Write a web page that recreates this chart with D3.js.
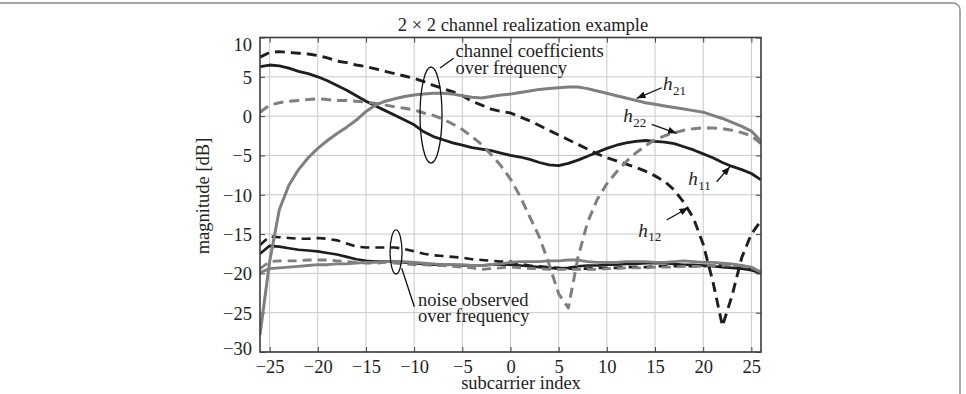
<!DOCTYPE html>
<html><head><meta charset="utf-8">
<script src="https://cdn.jsdelivr.net/npm/d3@7"></script>
<style>
body{margin:0;background:#fff}
svg{display:block}
text{font-family:"Liberation Serif","Times New Roman",serif;fill:#222}
</style>
</head><body>
<svg id="c" width="966" height="394"></svg>
<script>
// ---------------- data ----------------
const subcarrier = [-26,-25,-24,-23,-22,-21,-20,-19,-18,-17,-16,-15,-14,-13,-12,-11,-10,-9,-8,-7,-6,-5,-4,-3,-2,-1,0,1,2,3,4,5,6,7,8,9,10,11,12,13,14,15,16,17,18,19,20,21,22,23,24,25,26];

// channel coefficients [dB]
const h11 = [6.3,6.5,6.4,6.1,5.7,5.4,5.0,4.5,3.9,3.3,2.6,1.9,1.3,0.7,0.1,-0.5,-1.1,-2.0,-2.6,-3.0,-3.4,-3.7,-4.0,-4.2,-4.4,-4.7,-5.0,-5.2,-5.5,-5.9,-6.2,-6.3,-6.0,-5.6,-5.1,-4.6,-4.1,-3.7,-3.4,-3.2,-3.1,-3.2,-3.3,-3.5,-3.9,-4.3,-4.8,-5.3,-5.9,-6.4,-6.8,-7.3,-8.1];
const h12 = [7.5,8.1,8.2,8.1,8.0,7.9,7.7,7.4,7.0,6.8,6.5,6.3,6.0,5.7,5.4,5.1,4.8,4.4,3.9,3.5,3.1,2.6,1.9,1.4,0.9,0.6,0.4,-0.1,-0.6,-1.2,-1.8,-2.4,-3.0,-3.6,-4.2,-4.8,-5.3,-5.7,-6.1,-6.5,-7.0,-7.6,-8.3,-9.4,-11.0,-13.0,-16.3,-21.0,-26.7,-22.8,-18.0,-15.0,-13.3];
const h21 = [-27.8,-18.5,-11.9,-8.8,-6.8,-5.3,-4.1,-3.1,-2.2,-1.4,-0.5,0.6,1.4,1.9,2.2,2.5,2.7,2.8,2.9,2.9,2.8,2.6,2.4,2.3,2.5,2.7,2.8,3.0,3.2,3.4,3.5,3.6,3.7,3.7,3.5,3.2,2.9,2.6,2.3,2.0,1.7,1.5,1.3,1.1,0.9,0.7,0.5,0.1,-0.3,-0.8,-1.3,-1.9,-3.2];
const h22 = [0.5,1.4,1.7,1.9,2.0,2.1,2.2,2.1,2.0,2.0,1.9,1.8,1.6,1.4,1.2,1.0,0.8,0.4,0.1,-0.4,-1.0,-1.7,-2.6,-3.6,-4.9,-6.3,-8.0,-10.2,-12.8,-15.4,-18.8,-22.6,-24.4,-18.0,-13.5,-10.6,-8.6,-7.1,-5.8,-4.7,-3.8,-3.0,-2.5,-2.1,-1.8,-1.6,-1.5,-1.5,-1.6,-1.8,-2.1,-2.5,-3.5];

// noise observed over frequency [dB]
const n11 = [-17.5,-16.5,-16.6,-16.8,-17.0,-17.1,-17.2,-17.4,-17.6,-17.9,-18.2,-18.4,-18.5,-18.5,-18.5,-18.6,-18.7,-18.8,-18.9,-18.9,-18.9,-19.0,-19.0,-19.0,-18.9,-18.9,-18.9,-19.0,-19.1,-19.2,-19.3,-19.4,-19.3,-19.1,-19.0,-19.0,-18.9,-18.9,-18.8,-18.8,-18.7,-18.7,-18.7,-18.8,-18.9,-18.9,-19.0,-19.1,-19.2,-19.3,-19.4,-19.6,-20.0];
const n12 = [-16.4,-15.3,-15.4,-15.5,-15.6,-15.6,-15.5,-15.6,-15.8,-16.2,-16.6,-16.7,-16.7,-16.7,-16.7,-16.9,-17.2,-17.5,-17.7,-17.8,-17.9,-18.0,-18.2,-18.3,-18.4,-18.5,-18.5,-18.8,-19.0,-19.1,-19.2,-19.3,-19.4,-19.4,-19.4,-19.3,-19.3,-19.3,-19.2,-19.2,-19.2,-19.1,-19.1,-19.1,-19.1,-19.1,-19.1,-19.0,-19.0,-18.9,-19.0,-19.4,-19.9];
const n21 = [-19.9,-19.4,-19.3,-19.2,-19.1,-19.0,-18.9,-18.9,-18.8,-18.8,-18.7,-18.6,-18.6,-18.5,-18.5,-18.5,-18.6,-18.7,-18.8,-18.9,-18.9,-18.9,-19.0,-19.0,-18.9,-18.8,-18.6,-18.5,-18.5,-18.5,-18.4,-18.4,-18.3,-18.3,-18.5,-18.6,-18.6,-18.6,-18.5,-18.5,-18.5,-18.6,-18.6,-18.5,-18.4,-18.5,-18.6,-18.6,-18.7,-18.8,-19.0,-19.2,-19.9];
const n22 = [-19.4,-18.5,-18.4,-18.4,-18.4,-18.3,-18.3,-18.3,-18.4,-18.5,-18.6,-18.7,-18.7,-18.6,-18.7,-18.8,-18.9,-18.9,-19.0,-19.0,-19.1,-19.2,-19.3,-19.5,-19.4,-19.3,-19.2,-19.3,-19.4,-19.4,-19.5,-19.5,-19.5,-19.5,-19.5,-19.5,-19.4,-19.4,-19.3,-19.3,-19.3,-19.2,-19.2,-19.2,-19.1,-19.1,-19.1,-19.0,-19.0,-18.9,-19.0,-19.3,-19.8];

const xTicks = [-25,-20,-15,-10,-5,0,5,10,15,20,25];
const yTicks = [-30,-25,-20,-15,-10,-5,0,5,10];

const titleText = "2 \u00d7 2 channel realization example";
const xLabel = "subcarrier index";
const yLabel = "magnitude [dB]";

// ---------------- drawing ----------------
const svg = d3.select("#c");
const L = 260, R = 761, T = 37.5, B = 352;
const x = d3.scaleLinear().domain([-26, 26]).range([L, R]);
const y = d3.scaleLinear().domain([-30, 10]).range([B, T]);
const FS = 18.5;
const fmt = v => v < 0 ? "\u2212" + Math.abs(v) : String(v);

// outer figure border
svg.append("rect").attr("x", -20).attr("y", 3).attr("width", 980).attr("height", 440)
  .attr("rx", 7).attr("fill", "none").attr("stroke", "#8c8c8c").attr("stroke-width", 1.5);

const defs = svg.append("defs");
defs.append("clipPath").attr("id", "plotclip").append("rect")
  .attr("x", L).attr("y", T - 2).attr("width", R - L).attr("height", B - T + 4);
defs.append("marker").attr("id", "arr").attr("viewBox", "0 0 10 8")
  .attr("refX", 10).attr("refY", 4).attr("markerWidth", 9).attr("markerHeight", 7)
  .attr("markerUnits", "userSpaceOnUse").attr("orient", "auto")
  .append("path").attr("d", "M0,0 L10,4 L0,8 z").attr("fill", "#111");

// grid
const grid = svg.append("g").attr("stroke", "#c8c8c8").attr("stroke-width", 1);
grid.selectAll("line.gx").data(xTicks).join("line").attr("class", "gx")
  .attr("x1", d => x(d)).attr("x2", d => x(d)).attr("y1", T).attr("y2", B);
grid.selectAll("line.gy").data(yTicks).join("line").attr("class", "gy")
  .attr("x1", L).attr("x2", R).attr("y1", d => y(d)).attr("y2", d => y(d));

// axes (ticks inside, MATLAB style)
const tk = 5;
const axB = svg.append("g").attr("transform", `translate(0,${B})`)
  .call(d3.axisBottom(x).tickValues(xTicks).tickSize(-tk).tickPadding(9).tickFormat(fmt));
const axT = svg.append("g").attr("transform", `translate(0,${T})`)
  .call(d3.axisTop(x).tickValues(xTicks).tickSize(-tk).tickFormat(""));
const axL = svg.append("g").attr("transform", `translate(${L},0)`)
  .call(d3.axisLeft(y).tickValues(yTicks).tickSize(-tk).tickPadding(8).tickFormat(fmt));
const axR = svg.append("g").attr("transform", `translate(${R},0)`)
  .call(d3.axisRight(y).tickValues(yTicks).tickSize(-tk).tickFormat(""));
[axB, axT, axL, axR].forEach(a => {
  a.select(".domain").remove();
  a.selectAll(".tick line").attr("stroke", "#444").attr("stroke-width", 1);
  a.selectAll("text").attr("font-family", "Liberation Serif").attr("font-size", FS).attr("fill", "#222");
});
axB.selectAll(".tick text").attr("dy", "0.71em").attr("y", 8);
// keep the extreme y labels inside the frame like the original
axL.selectAll(".tick text").attr("dy", "0.35em")
  .attr("y", d => d === 10 ? 6.5 : (d === -30 ? -4 : 0));

// lines
const line = d3.line().x((d, i) => x(subcarrier[i])).y(d => y(d));
const plot = svg.append("g").attr("clip-path", "url(#plotclip)").attr("fill", "none");
const black = "#1e1e1e", gray = "#7f7f7f";
const series = [
  {v: n11, c: black, dash: null, w: 2.6},
  {v: n12, c: black, dash: "9,6", w: 2.6},
  {v: n21, c: gray, dash: null, w: 2.8},
  {v: n22, c: gray, dash: "9,6", w: 2.8},
  {v: h11, c: black, dash: null, w: 2.8},
  {v: h12, c: black, dash: "10,6", w: 2.9},
  {v: h21, c: gray, dash: null, w: 3.0},
  {v: h22, c: gray, dash: "10,6", w: 3.0}
];
plot.selectAll("path").data(series).join("path")
  .attr("d", s => line(s.v)).attr("stroke", s => s.c).attr("stroke-width", s => s.w)
  .attr("stroke-dasharray", s => s.dash).attr("stroke-linejoin", "round");

// frame
svg.append("rect").attr("x", L).attr("y", T).attr("width", R - L).attr("height", B - T)
  .attr("fill", "none").attr("stroke", "#3c3c3c").attr("stroke-width", 1.6);

// title & axis labels
svg.append("text").attr("x", 523).attr("y", 31).attr("text-anchor", "middle")
  .attr("font-size", FS).text(titleText);
svg.append("text").attr("x", 521).attr("y", 389).attr("text-anchor", "middle")
  .attr("font-size", FS).text(xLabel);
svg.append("text").attr("transform", "translate(209,196) rotate(-90)").attr("text-anchor", "middle")
  .attr("font-size", FS).text(yLabel);

// annotations (in data coordinates)
const ann = svg.append("g");
// channel coefficients group
ann.append("ellipse").attr("cx", x(-8.25)).attr("cy", y(0.14))
  .attr("rx", x(-8.25 + 1.14) - x(-8.25)).attr("ry", y(0.14) - y(6.25))
  .attr("fill", "none").attr("stroke", "#111").attr("stroke-width", 1.3);
ann.append("line").attr("x1", x(-7.32)).attr("y1", y(6.12)).attr("x2", x(-5.9)).attr("y2", y(7.35))
  .attr("stroke", "#111").attr("stroke-width", 1.3);
ann.append("text").attr("x", x(-5.71)).attr("y", y(7.52)).attr("font-size", FS).text("channel coefficients");
ann.append("text").attr("x", x(-5.71)).attr("y", y(5.42)).attr("font-size", FS).text("over frequency");
// noise group
ann.append("ellipse").attr("cx", x(-11.88)).attr("cy", y(-17.28))
  .attr("rx", x(-11.88 + 0.62) - x(-11.88)).attr("ry", y(-17.28) - y(-14.48))
  .attr("fill", "none").attr("stroke", "#111").attr("stroke-width", 1.3);
ann.append("line").attr("x1", x(-11.29)).attr("y1", y(-19.35)).attr("x2", x(-9.98)).attr("y2", y(-24.24))
  .attr("stroke", "#111").attr("stroke-width", 1.3);
ann.append("text").attr("x", x(-9.6)).attr("y", y(-24.21)).attr("font-size", FS).text("noise observed");
ann.append("text").attr("x", x(-9.6)).attr("y", y(-26.18)).attr("font-size", FS).text("over frequency");

// h labels with arrows
const labels = [
  {sub: "21", lx: 15.83, ly: 3.32, ax1: 15.69, ay1: 3.61, ax2: 13.1, ay2: 2.27},
  {sub: "22", lx: 11.71, ly: -0.79, ax1: 14.66, ay1: -1.04, ax2: 17.25, ay2: -2.18},
  {sub: "11", lx: 18.45, ly: -8.76, ax1: 21.4, ay1: -8.34, ax2: 22.78, ay2: -6.43},
  {sub: "12", lx: 13.26, ly: -15.34, ax1: 16.21, ay1: -13.21, ax2: 18.45, ay2: -11.65}
];
labels.forEach(l => {
  ann.append("line").attr("x1", x(l.ax1)).attr("y1", y(l.ay1)).attr("x2", x(l.ax2)).attr("y2", y(l.ay2))
    .attr("stroke", "#111").attr("stroke-width", 1.3).attr("marker-end", "url(#arr)");
  ann.append("text").attr("x", x(l.lx)).attr("y", y(l.ly)).attr("font-size", 19)
    .attr("font-style", "italic").attr("fill", "#333").text("h");
  ann.append("text").attr("x", x(l.lx) + 10).attr("y", y(l.ly) + 4.5).attr("font-size", 13)
    .attr("fill", "#333").text(l.sub);
});
</script>
</body></html>
